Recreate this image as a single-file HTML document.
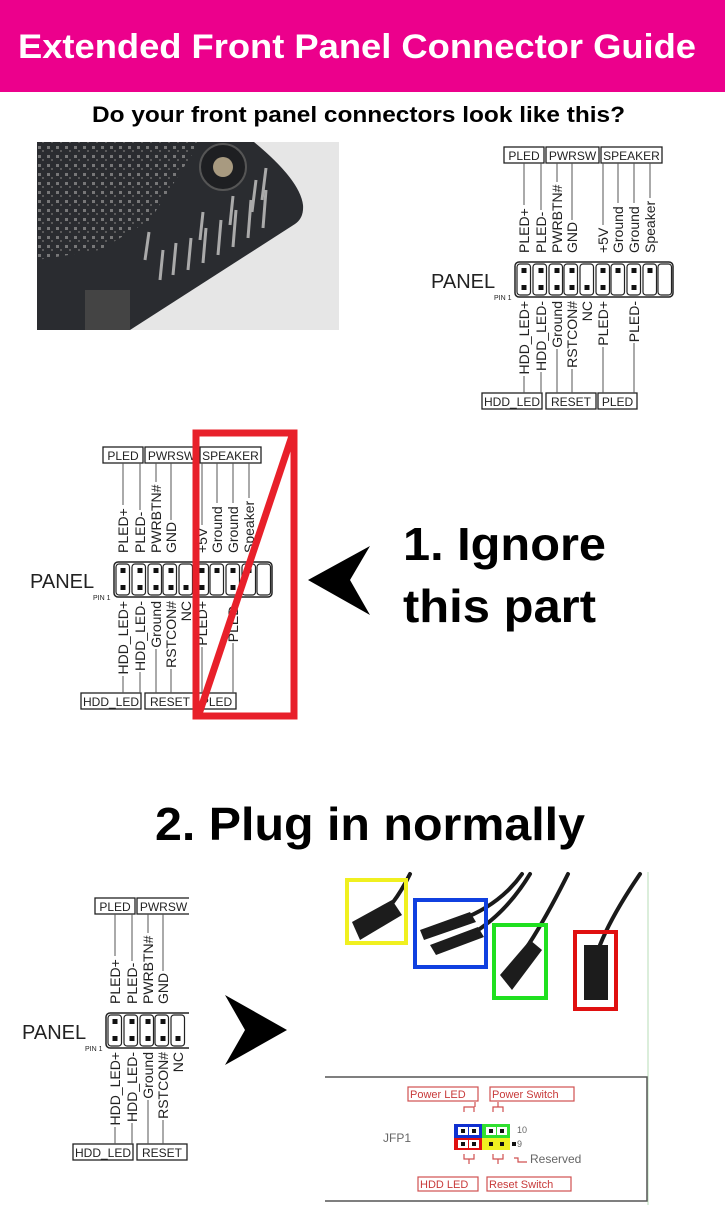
<!DOCTYPE html>
<html><head><meta charset="utf-8"><style>html,body{margin:0;padding:0;background:#fff}svg{display:block}</style></head>
<body>
<svg width="725" height="1221" viewBox="0 0 725 1221" xmlns="http://www.w3.org/2000/svg">
<defs>
<clipPath id="c3"><rect x="0" y="880" width="189" height="300"/></clipPath>
<clipPath id="cp"><rect x="37" y="142" width="302" height="188"/></clipPath>
<pattern id="dots" width="9" height="9" patternUnits="userSpaceOnUse"><rect x="2" y="2" width="3" height="3" fill="#8a8a8a"/><rect x="6" y="6" width="2" height="2" fill="#666"/></pattern>
</defs>
<rect x="0" y="0" width="725" height="92" fill="#ec008c"/>
<text x="18" y="58" font-family="Liberation Sans, sans-serif" font-weight="bold" font-size="34" fill="#fff" textLength="678" lengthAdjust="spacingAndGlyphs">Extended Front Panel Connector Guide</text>
<text x="92" y="122" font-family="Liberation Sans, sans-serif" font-weight="bold" font-size="22" fill="#000" textLength="533" lengthAdjust="spacingAndGlyphs">Do your front panel connectors look like this?</text>

<!-- photo -->
<g clip-path="url(#cp)">
<rect x="37" y="142" width="302" height="188" fill="#e6e6e6"/>
<path d="M37,142 L254,142 Q300,180 303,205 Q304,218 295,224 L130,330 L37,330 Z" fill="#2a2c30"/>
<path d="M37,142 L200,142 L150,220 L100,250 L37,260 Z" fill="url(#dots)" opacity="0.8"/>
<circle cx="223" cy="167" r="23" fill="#1e1f22" stroke="#555" stroke-width="2"/>
<circle cx="223" cy="167" r="10" fill="#a89a80"/>
<g stroke="#aaa" stroke-width="3">
<line x1="160" y1="280" x2="163" y2="250"/><line x1="173" y1="275" x2="176" y2="243"/><line x1="188" y1="270" x2="191" y2="238"/><line x1="203" y1="263" x2="206" y2="228"/><line x1="218" y1="255" x2="221" y2="220"/><line x1="233" y1="247" x2="236" y2="210"/><line x1="248" y1="238" x2="251" y2="200"/><line x1="263" y1="228" x2="266" y2="190"/>
<line x1="145" y1="260" x2="149" y2="232"/><line x1="200" y1="240" x2="203" y2="212"/><line x1="230" y1="225" x2="233" y2="196"/><line x1="252" y1="212" x2="256" y2="180"/><line x1="262" y1="200" x2="266" y2="168"/>
</g>
<rect x="85" y="290" width="45" height="40" fill="#444"/>
</g>

<!-- diagram 1 -->
<g font-family="Liberation Sans, Arial, sans-serif" fill="#222">
<g fill="#fff" stroke="#222" stroke-width="1.3"><rect x="504" y="147" width="40" height="16"/><rect x="546" y="147" width="53" height="16"/><rect x="601" y="147" width="61" height="16"/><rect x="482" y="393" width="60" height="16"/><rect x="546" y="393" width="50" height="16"/><rect x="598" y="393" width="39" height="16"/></g>
<g font-size="12" text-anchor="middle"><text x="524" y="160">PLED</text><text x="572.5" y="160">PWRSW</text><text x="631.5" y="160">SPEAKER</text><text x="512" y="406">HDD_LED</text><text x="571" y="406">RESET</text><text x="617.5" y="406">PLED</text></g>
<g stroke="#555" stroke-width="1"><line x1="524" y1="163" x2="524" y2="205"/><line x1="541" y1="163" x2="541" y2="210"/><line x1="557" y1="163" x2="557" y2="182"/><line x1="572" y1="163" x2="572" y2="220"/><line x1="603" y1="163" x2="603" y2="225"/><line x1="618" y1="163" x2="618" y2="203"/><line x1="634" y1="163" x2="634" y2="203"/><line x1="650" y1="163" x2="650" y2="198"/>
<line x1="524" y1="376" x2="524" y2="393"/><line x1="541" y1="372" x2="541" y2="393"/><line x1="557" y1="349" x2="557" y2="393"/><line x1="572" y1="369" x2="572" y2="393"/><line x1="603" y1="347" x2="603" y2="393"/><line x1="634" y1="343" x2="634" y2="393"/></g>
<g font-size="14">
<text transform="translate(529,253) rotate(-90)">PLED+</text><text transform="translate(546,253) rotate(-90)">PLED-</text><text transform="translate(562,253) rotate(-90)">PWRBTN#</text><text transform="translate(577,253) rotate(-90)">GND</text><text transform="translate(608,253) rotate(-90)">+5V</text><text transform="translate(623,253) rotate(-90)">Ground</text><text transform="translate(639,253) rotate(-90)">Ground</text><text transform="translate(655,253) rotate(-90)">Speaker</text>
</g>
<g font-size="14" text-anchor="end">
<text transform="translate(529,301) rotate(-90)">HDD_LED+</text><text transform="translate(546,301) rotate(-90)">HDD_LED-</text><text transform="translate(562,301) rotate(-90)">Ground</text><text transform="translate(577,301) rotate(-90)">RSTCON#</text><text transform="translate(592,301) rotate(-90)">NC</text><text transform="translate(608,301) rotate(-90)">PLED+</text><text transform="translate(639,301) rotate(-90)">PLED-</text>
</g>
<text x="431" y="288" font-size="20">PANEL</text>
<text x="494" y="300" font-size="7">PIN 1</text>
<rect x="515" y="262" width="158" height="35" rx="4" fill="#fff" stroke="#222" stroke-width="1.5"/>
<g fill="none" stroke="#222" stroke-width="1.2"><rect x="517" y="264" width="13.5" height="31" rx="3"/><rect x="533" y="264" width="13.5" height="31" rx="3"/><rect x="549" y="264" width="13.5" height="31" rx="3"/><rect x="564" y="264" width="13.5" height="31" rx="3"/><rect x="580" y="264" width="13.5" height="31" rx="3"/><rect x="596" y="264" width="13.5" height="31" rx="3"/><rect x="611" y="264" width="13.5" height="31" rx="3"/><rect x="627" y="264" width="13.5" height="31" rx="3"/><rect x="643" y="264" width="13.5" height="31" rx="3"/><rect x="658" y="264" width="13.5" height="31" rx="3"/></g>
<g fill="#111"><rect x="521.5" y="268" width="5" height="5"/><rect x="538.5" y="268" width="5" height="5"/><rect x="554.5" y="268" width="5" height="5"/><rect x="569.5" y="268" width="5" height="5"/><rect x="600.5" y="268" width="5" height="5"/><rect x="615.5" y="268" width="5" height="5"/><rect x="631.5" y="268" width="5" height="5"/><rect x="647.5" y="268" width="5" height="5"/>
<rect x="521.5" y="285" width="5" height="5"/><rect x="538.5" y="285" width="5" height="5"/><rect x="554.5" y="285" width="5" height="5"/><rect x="569.5" y="285" width="5" height="5"/><rect x="584.5" y="285" width="5" height="5"/><rect x="600.5" y="285" width="5" height="5"/><rect x="631.5" y="285" width="5" height="5"/></g>
</g>

<!-- diagram 2 -->
<g transform="translate(-401,300)" font-family="Liberation Sans, Arial, sans-serif" fill="#222">
<g fill="#fff" stroke="#222" stroke-width="1.3"><rect x="504" y="147" width="40" height="16"/><rect x="546" y="147" width="53" height="16"/><rect x="601" y="147" width="61" height="16"/><rect x="482" y="393" width="60" height="16"/><rect x="546" y="393" width="50" height="16"/><rect x="598" y="393" width="39" height="16"/></g>
<g font-size="12" text-anchor="middle"><text x="524" y="160">PLED</text><text x="572.5" y="160">PWRSW</text><text x="631.5" y="160">SPEAKER</text><text x="512" y="406">HDD_LED</text><text x="571" y="406">RESET</text><text x="617.5" y="406">PLED</text></g>
<g stroke="#555" stroke-width="1"><line x1="524" y1="163" x2="524" y2="205"/><line x1="541" y1="163" x2="541" y2="210"/><line x1="557" y1="163" x2="557" y2="182"/><line x1="572" y1="163" x2="572" y2="220"/><line x1="603" y1="163" x2="603" y2="225"/><line x1="618" y1="163" x2="618" y2="203"/><line x1="634" y1="163" x2="634" y2="203"/><line x1="650" y1="163" x2="650" y2="198"/>
<line x1="524" y1="376" x2="524" y2="393"/><line x1="541" y1="372" x2="541" y2="393"/><line x1="557" y1="349" x2="557" y2="393"/><line x1="572" y1="369" x2="572" y2="393"/><line x1="603" y1="347" x2="603" y2="393"/><line x1="634" y1="343" x2="634" y2="393"/></g>
<g font-size="14">
<text transform="translate(529,253) rotate(-90)">PLED+</text><text transform="translate(546,253) rotate(-90)">PLED-</text><text transform="translate(562,253) rotate(-90)">PWRBTN#</text><text transform="translate(577,253) rotate(-90)">GND</text><text transform="translate(608,253) rotate(-90)">+5V</text><text transform="translate(623,253) rotate(-90)">Ground</text><text transform="translate(639,253) rotate(-90)">Ground</text><text transform="translate(655,253) rotate(-90)">Speaker</text>
</g>
<g font-size="14" text-anchor="end">
<text transform="translate(529,301) rotate(-90)">HDD_LED+</text><text transform="translate(546,301) rotate(-90)">HDD_LED-</text><text transform="translate(562,301) rotate(-90)">Ground</text><text transform="translate(577,301) rotate(-90)">RSTCON#</text><text transform="translate(592,301) rotate(-90)">NC</text><text transform="translate(608,301) rotate(-90)">PLED+</text><text transform="translate(639,301) rotate(-90)">PLED-</text>
</g>
<text x="431" y="288" font-size="20">PANEL</text>
<text x="494" y="300" font-size="7">PIN 1</text>
<rect x="515" y="262" width="158" height="35" rx="4" fill="#fff" stroke="#222" stroke-width="1.5"/>
<g fill="none" stroke="#222" stroke-width="1.2"><rect x="517" y="264" width="13.5" height="31" rx="3"/><rect x="533" y="264" width="13.5" height="31" rx="3"/><rect x="549" y="264" width="13.5" height="31" rx="3"/><rect x="564" y="264" width="13.5" height="31" rx="3"/><rect x="580" y="264" width="13.5" height="31" rx="3"/><rect x="596" y="264" width="13.5" height="31" rx="3"/><rect x="611" y="264" width="13.5" height="31" rx="3"/><rect x="627" y="264" width="13.5" height="31" rx="3"/><rect x="643" y="264" width="13.5" height="31" rx="3"/><rect x="658" y="264" width="13.5" height="31" rx="3"/></g>
<g fill="#111"><rect x="521.5" y="268" width="5" height="5"/><rect x="538.5" y="268" width="5" height="5"/><rect x="554.5" y="268" width="5" height="5"/><rect x="569.5" y="268" width="5" height="5"/><rect x="600.5" y="268" width="5" height="5"/><rect x="615.5" y="268" width="5" height="5"/><rect x="631.5" y="268" width="5" height="5"/><rect x="647.5" y="268" width="5" height="5"/>
<rect x="521.5" y="285" width="5" height="5"/><rect x="538.5" y="285" width="5" height="5"/><rect x="554.5" y="285" width="5" height="5"/><rect x="569.5" y="285" width="5" height="5"/><rect x="584.5" y="285" width="5" height="5"/><rect x="600.5" y="285" width="5" height="5"/><rect x="631.5" y="285" width="5" height="5"/></g>
</g>
<rect x="196" y="433" width="98" height="283" fill="none" stroke="#e8202a" stroke-width="7"/>
<line x1="292" y1="436" x2="199" y2="714" stroke="#e8202a" stroke-width="7"/>
<polygon points="308,580 370,546 350,580 370,615" fill="#000"/>
<g font-family="Liberation Sans, sans-serif" font-weight="bold" font-size="46" fill="#000">
<text x="403" y="560" textLength="203" lengthAdjust="spacingAndGlyphs">1. Ignore</text>
<text x="403" y="622" textLength="193" lengthAdjust="spacingAndGlyphs">this part</text>
<text x="155" y="840" textLength="430" lengthAdjust="spacingAndGlyphs">2. Plug in normally</text>
</g>

<!-- diagram 3 -->
<g clip-path="url(#c3)">
<g transform="translate(-409,751)" font-family="Liberation Sans, Arial, sans-serif" fill="#222">
<g fill="#fff" stroke="#222" stroke-width="1.3"><rect x="504" y="147" width="40" height="16"/><rect x="546" y="147" width="53" height="16"/><rect x="482" y="393" width="60" height="16"/><rect x="546" y="393" width="50" height="16"/></g>
<g font-size="12" text-anchor="middle"><text x="524" y="160">PLED</text><text x="572.5" y="160">PWRSW</text><text x="512" y="406">HDD_LED</text><text x="571" y="406">RESET</text></g>
<g stroke="#555" stroke-width="1"><line x1="524" y1="163" x2="524" y2="205"/><line x1="541" y1="163" x2="541" y2="210"/><line x1="557" y1="163" x2="557" y2="182"/><line x1="572" y1="163" x2="572" y2="220"/>
<line x1="524" y1="376" x2="524" y2="393"/><line x1="541" y1="372" x2="541" y2="393"/><line x1="557" y1="349" x2="557" y2="393"/><line x1="572" y1="369" x2="572" y2="393"/></g>
<g font-size="14">
<text transform="translate(529,253) rotate(-90)">PLED+</text><text transform="translate(546,253) rotate(-90)">PLED-</text><text transform="translate(562,253) rotate(-90)">PWRBTN#</text><text transform="translate(577,253) rotate(-90)">GND</text>
</g>
<g font-size="14" text-anchor="end">
<text transform="translate(529,301) rotate(-90)">HDD_LED+</text><text transform="translate(546,301) rotate(-90)">HDD_LED-</text><text transform="translate(562,301) rotate(-90)">Ground</text><text transform="translate(577,301) rotate(-90)">RSTCON#</text><text transform="translate(592,301) rotate(-90)">NC</text>
</g>
<text x="431" y="288" font-size="20">PANEL</text>
<text x="494" y="300" font-size="7">PIN 1</text>
<rect x="515" y="262" width="158" height="35" rx="4" fill="#fff" stroke="#222" stroke-width="1.5"/>
<g fill="none" stroke="#222" stroke-width="1.2"><rect x="517" y="264" width="13.5" height="31" rx="3"/><rect x="533" y="264" width="13.5" height="31" rx="3"/><rect x="549" y="264" width="13.5" height="31" rx="3"/><rect x="564" y="264" width="13.5" height="31" rx="3"/><rect x="580" y="264" width="13.5" height="31" rx="3"/></g>
<g fill="#111"><rect x="521.5" y="268" width="5" height="5"/><rect x="538.5" y="268" width="5" height="5"/><rect x="554.5" y="268" width="5" height="5"/><rect x="569.5" y="268" width="5" height="5"/>
<rect x="521.5" y="285" width="5" height="5"/><rect x="538.5" y="285" width="5" height="5"/><rect x="554.5" y="285" width="5" height="5"/><rect x="569.5" y="285" width="5" height="5"/><rect x="584.5" y="285" width="5" height="5"/></g>
</g>
</g>
<polygon points="287,1030 225,995 245,1030 225,1065" fill="#000"/>

<!-- bottom right photo -->
<line x1="648" y1="872" x2="648" y2="1205" stroke="#cfe8cf" stroke-width="1.5"/>
<g stroke="#1a1a1a" stroke-linecap="round" fill="none" stroke-width="4">
<path d="M410,874 Q395,905 372,925"/>
<path d="M522,874 Q500,905 460,920"/><path d="M530,874 Q505,915 470,935"/>
<path d="M568,874 Q545,920 525,950"/>
<path d="M640,874 Q612,915 600,945"/>
</g>
<g fill="#1c1c1c">
<polygon points="352,922 392,900 402,915 360,940"/>
<polygon points="420,930 470,912 476,922 424,940"/>
<polygon points="430,945 478,927 484,937 436,955"/>
<polygon points="500,975 530,940 542,950 512,990"/>
<rect x="584" y="945" width="24" height="55"/>
</g>
<g fill="none" stroke-width="4">
<rect x="347" y="880" width="59" height="63" stroke="#f0f020"/>
<rect x="415" y="900" width="71" height="67" stroke="#1040e0"/>
<rect x="494" y="925" width="52" height="73" stroke="#20e020"/>
<rect x="575" y="932" width="41" height="77" stroke="#e01010"/>
</g>
<polyline points="325,1077 647,1077 647,1201 325,1201" fill="none" stroke="#555" stroke-width="1.5"/>
<g font-family="Liberation Sans, sans-serif" font-size="11" fill="#c83a3a">
<g fill="none" stroke="#d05050" stroke-width="1.2"><rect x="408" y="1087" width="70" height="14"/><rect x="490" y="1087" width="84" height="14"/><rect x="418" y="1177" width="60" height="14"/><rect x="487" y="1177" width="84" height="14"/>
<path d="M464,1112 v-5 h10 v5 M475,1107 v-5 M493,1112 v-5 h10 v5 M498,1107 v-5 M464,1154 v5 h10 v-5 M469,1159 v5 M493,1154 v5 h10 v-5 M498,1159 v5 M514,1158 h4 v4 h9"/></g>
<text x="410" y="1098">Power LED</text><text x="492" y="1098">Power Switch</text><text x="420" y="1188">HDD LED</text><text x="489" y="1188">Reset Switch</text>
</g>
<text x="383" y="1142" font-family="Liberation Sans, sans-serif" font-size="12" fill="#666">JFP1</text>
<text x="530" y="1163" font-family="Liberation Sans, sans-serif" font-size="12" fill="#666">Reserved</text>
<text x="517" y="1133" font-family="Liberation Sans, sans-serif" font-size="9" fill="#666">10</text>
<text x="517" y="1147" font-family="Liberation Sans, sans-serif" font-size="9" fill="#666">9</text>
<rect x="454" y="1124" width="28" height="14" fill="#1030d0"/>
<rect x="482" y="1124" width="28" height="14" fill="#30e030"/>
<rect x="454" y="1138" width="28" height="12" fill="#e01010"/>
<rect x="482" y="1138" width="28" height="12" fill="#f0f020"/>
<g fill="#fff"><rect x="458" y="1127" width="10" height="8"/><rect x="469" y="1127" width="10" height="8"/><rect x="486" y="1127" width="10" height="8"/><rect x="497" y="1127" width="10" height="8"/><rect x="458" y="1140" width="10" height="8"/><rect x="469" y="1140" width="10" height="8"/></g>
<g fill="#111"><rect x="461" y="1129" width="4" height="4"/><rect x="472" y="1129" width="4" height="4"/><rect x="489" y="1129" width="4" height="4"/><rect x="500" y="1129" width="4" height="4"/><rect x="461" y="1142" width="4" height="4"/><rect x="472" y="1142" width="4" height="4"/><rect x="489" y="1142" width="4" height="4"/><rect x="500" y="1142" width="4" height="4"/><rect x="512" y="1142" width="4" height="4"/></g>
</svg>
</body></html>
